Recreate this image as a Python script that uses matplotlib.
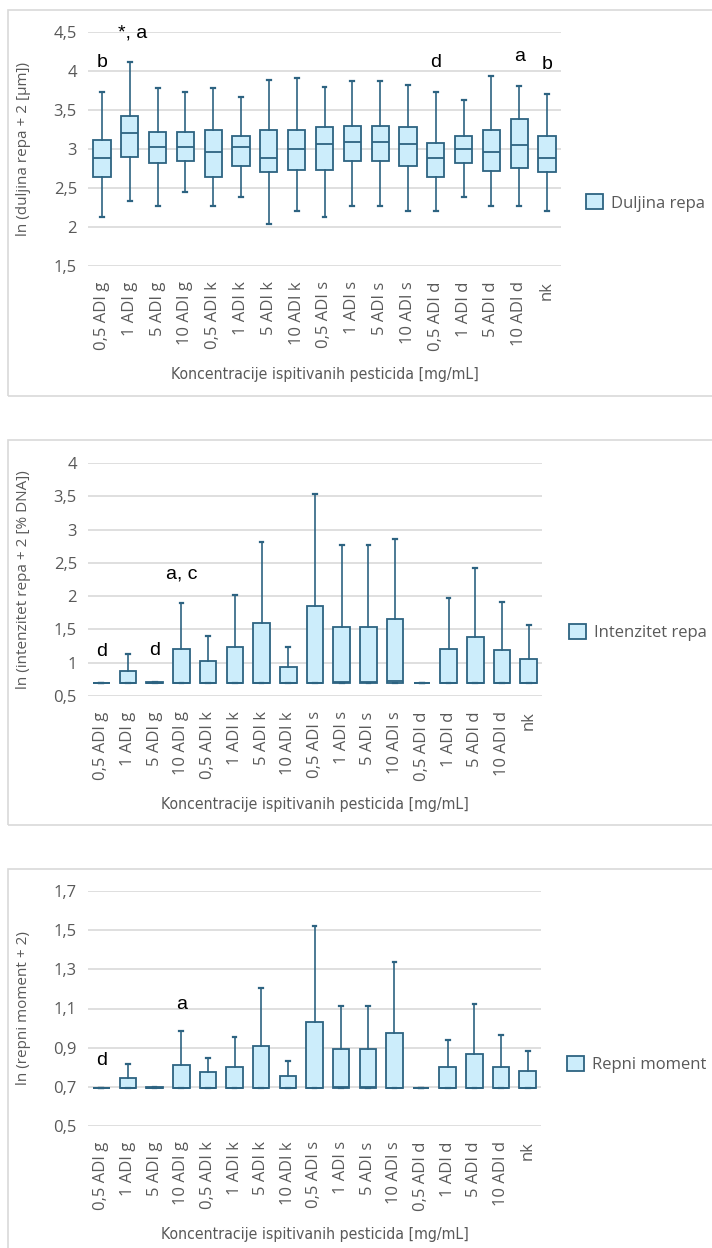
import matplotlib
matplotlib.use('Agg')

import matplotlib.pyplot as plt
from matplotlib.patches import Patch, Rectangle

plt.rcParams.update({
    'font.family': ['Open Sans', 'DejaVu Sans'],
    'font.size': 11,
})

# Kategorije (x os)
kategorije = ['0,5 ADI g', '1 ADI g', '5 ADI g', '10 ADI g',
              '0,5 ADI k', '1 ADI k', '5 ADI k', '10 ADI k',
              '0,5 ADI s', '1 ADI s', '5 ADI s', '10 ADI s',
              '0,5 ADI d', '1 ADI d', '5 ADI d', '10 ADI d', 'nk']

# --- Duljina repa ---
dr_min = [2.13, 2.33, 2.27, 2.45, 2.27, 2.39, 2.04, 2.20, 2.13, 2.27, 2.27, 2.20, 2.20, 2.39, 2.27, 2.27, 2.20]
dr_q1 = [2.64, 2.90, 2.82, 2.85, 2.64, 2.78, 2.70, 2.73, 2.73, 2.85, 2.85, 2.78, 2.64, 2.82, 2.72, 2.76, 2.70]
dr_med = [2.89, 3.20, 3.03, 3.03, 2.96, 3.03, 2.89, 3.00, 3.06, 3.09, 3.09, 3.06, 2.89, 3.00, 2.96, 3.05, 2.89]
dr_q3 = [3.11, 3.42, 3.22, 3.22, 3.24, 3.17, 3.24, 3.25, 3.28, 3.30, 3.30, 3.28, 3.08, 3.17, 3.25, 3.39, 3.17]
dr_max = [3.73, 4.11, 3.78, 3.73, 3.78, 3.67, 3.88, 3.91, 3.79, 3.87, 3.87, 3.82, 3.73, 3.63, 3.93, 3.81, 3.70]

# --- Intenzitet repa ---
ln2 = 0.693
ir_min = [ln2] * 17
ir_q1 = [ln2] * 17
ir_med = [ln2, ln2, ln2, ln2, ln2, ln2, ln2, ln2, ln2, 0.715, 0.715, 0.725, ln2, ln2, ln2, ln2, ln2]
ir_q3 = [ln2, 0.875, 0.715, 1.21, 1.025, 1.24, 1.60, 0.935, 1.845, 1.54, 1.54, 1.65, ln2, 1.21, 1.39, 1.195, 1.05]
ir_max = [ln2, 1.125, 0.715, 1.90, 1.405, 2.02, 2.815, 1.235, 3.53, 2.775, 2.775, 2.855, ln2, 1.97, 2.42, 1.905, 1.57]

# --- Repni moment ---
rm_min = [ln2] * 17
rm_q1 = [ln2] * 17
rm_med = [ln2, ln2, ln2, ln2, ln2, ln2, ln2, ln2, ln2, 0.697, 0.697, ln2, ln2, ln2, ln2, ln2, ln2]
rm_q3 = [ln2, 0.745, 0.698, 0.811, 0.777, 0.80, 0.909, 0.757, 1.031, 0.893, 0.893, 0.973, ln2, 0.80, 0.866, 0.803, 0.781]
rm_max = [ln2, 0.818, 0.698, 0.985, 0.849, 0.955, 1.205, 0.830, 1.521, 1.111, 1.111, 1.339, ln2, 0.941, 1.123, 0.965, 0.883]

# Oznake signifikantnosti (indeks, y, tekst)
dr_oznake = [(0, 4.115, 'b'), (1.1, 4.49, '*, a'), (12, 4.115, 'd'), (15, 4.19, 'a'), (16, 4.08, 'b')]
ir_oznake = [(0, 1.165, 'd'), (2, 1.19, 'd'), (3, 2.33, 'a, c')]
rm_oznake = [(0, 0.835, 'd'), (3, 1.12, 'a')]

fill = '#ccedfb'
edge = '#2d6381'
grey = '#595959'
W, H = 712, 1248

fig = plt.figure(figsize=(W / 100, H / 100), dpi=100)


def fmt(v):
    s = ('%.1f' % v).rstrip('0').rstrip('.')
    return s.replace('.', ',')


def panel(rect_px, box_px, mins, q1, med, q3, maxs, yticks, ylabel, legend, oznake, legend_x):
    x0, x1, ytop, ybot = rect_px
    ax = fig.add_axes([x0 / W, 1 - ybot / H, (x1 - x0) / W, (ybot - ytop) / H])
    stats = []
    for i in range(len(kategorije)):
        stats.append(dict(med=med[i], q1=q1[i], q3=q3[i], whislo=mins[i], whishi=maxs[i], fliers=[]))
    ax.bxp(stats, positions=range(len(kategorije)), widths=0.62, capwidths=0.14,
           patch_artist=True, showfliers=False,
           boxprops=dict(facecolor=fill, edgecolor=edge, linewidth=1.3),
           medianprops=dict(color=edge, linewidth=1.3),
           whiskerprops=dict(color=edge, linewidth=1.2),
           capprops=dict(color=edge, linewidth=1.6))
    ax.set_xlim(-0.5, len(kategorije) - 0.5)
    ax.set_ylim(yticks[0], yticks[-1])
    ax.set_yticks(yticks)
    ax.set_yticklabels([fmt(t) for t in yticks])
    ax.set_xticks(range(len(kategorije)))
    ax.set_xticklabels(kategorije, rotation=90)
    ax.tick_params(axis='both', length=0, labelcolor=grey, labelsize=12)
    ax.tick_params(axis='x', pad=11)
    ax.tick_params(axis='y', pad=8)
    for s in ax.spines.values():
        s.set_visible(False)
    ax.set_axisbelow(True)
    ax.yaxis.grid(True, color='#d9d9d9', linewidth=1.2)
    ax.set_ylabel(ylabel, color=grey, fontsize=11)
    ax.yaxis.set_label_coords((31 - x0) / (x1 - x0), 0.5)
    ax.set_xlabel('Koncentracije ispitivanih pesticida [mg/mL]', color=grey, fontsize=11.3,
                  family='DejaVu Sans', fontstretch='condensed')
    ax.xaxis.label.set_va('center')
    for xi, yi, t in oznake:
        ax.text(xi, yi, t, ha='center', va='center', fontsize=14,
                family=['Liberation Sans', 'DejaVu Sans'], color='black')
    # okvir
    bt, bb = box_px
    fig.add_artist(Rectangle((8 / W, 1 - bb / H), 1.0, (bb - bt) / H, transform=fig.transFigure,
                             fill=False, edgecolor='#d9d9d9', linewidth=1.2))
    fig.legend(handles=[Patch(facecolor=fill, edgecolor=edge, linewidth=1.3, label=legend)],
               loc='center left', bbox_to_anchor=(legend_x / W, 1 - (bt + bb) / 2 / H),
               frameon=False, fontsize=12, labelcolor=grey, handlelength=1.0, handleheight=1.0,
               handletextpad=0.5, borderaxespad=0, borderpad=0)
    return ax


ax1 = panel((88, 561, 32, 266), (10, 396), dr_min, dr_q1, dr_med, dr_q3, dr_max,
            [1.5, 2, 2.5, 3, 3.5, 4, 4.5], 'ln (duljina repa + 2 [µm])', 'Duljina repa', dr_oznake, 586)
ax1.xaxis.set_label_coords(0.5, (266 - 375) / 234)

ax2 = panel((88, 542, 463, 696), (440, 825), ir_min, ir_q1, ir_med, ir_q3, ir_max,
            [0.5, 1, 1.5, 2, 2.5, 3, 3.5, 4], 'ln (intenzitet repa + 2 [% DNA])', 'Intenzitet repa', ir_oznake, 569)
ax2.xaxis.set_label_coords(0.5, (696 - 805) / 233)

ax3 = panel((88, 541, 891, 1126), (869, 1260), rm_min, rm_q1, rm_med, rm_q3, rm_max,
            [0.5, 0.7, 0.9, 1.1, 1.3, 1.5, 1.7], 'ln (repni moment + 2)', 'Repni moment', rm_oznake, 567)
ax3.xaxis.set_label_coords(0.5, (1126 - 1235) / 235)

fig.savefig('out.png', dpi=100)
